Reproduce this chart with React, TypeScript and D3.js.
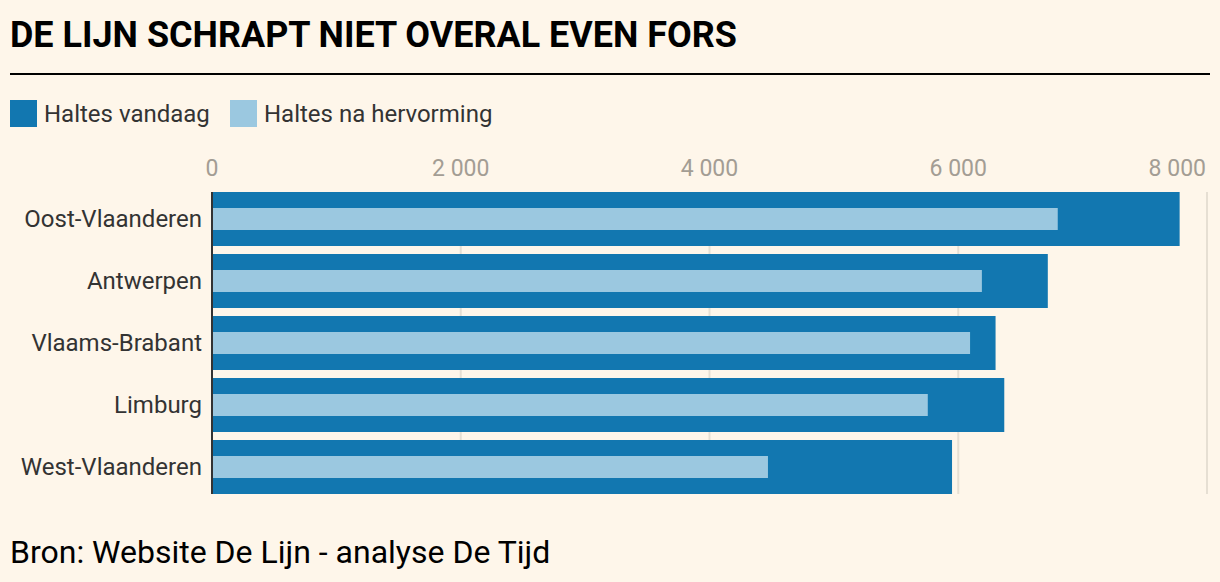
import React from 'react';
import * as d3 from 'd3';

const provinces = ['Oost-Vlaanderen', 'Antwerpen', 'Vlaams-Brabant', 'Limburg', 'West-Vlaanderen'];
const haltesVandaag = [7780, 6720, 6300, 6370, 5950];
const haltesNaHervorming = [6800, 6190, 6095, 5755, 4470];
const xTicks = [0, 2000, 4000, 6000, 8000];

const W = 1220;
const H = 582;
const BG = '#fef6ea';
const DARK = '#1277b0';
const LIGHT = '#9bc8e0';
const FONT = 'Roboto, "Noto Sans", sans-serif';

const fmt = (v: number) => d3.format(',')(v).replace(',', ' ');

const App: React.FC = () => {
  const x = d3.scaleLinear().domain([0, 8000]).range([212, 1207]);
  const y = d3.scaleBand<string>()
    .domain(provinces)
    .range([192, 494])
    .paddingInner(8 / 62)
    .paddingOuter(0)
    .align(0);
  const bh = y.bandwidth();
  const top = 192;
  const bottom = (y(provinces[provinces.length - 1]) ?? 0) + bh;

  return (
    <svg width={W} height={H} style={{ display: 'block', position: 'absolute', left: 0, top: 0, background: BG }}>
      <rect x={0} y={0} width={W} height={H} fill={BG} />
      <text x={10} y={47} fontFamily={FONT} fontWeight={700} fontSize={37} fill="#000"
        textLength={727} lengthAdjust="spacingAndGlyphs">
        DE LIJN SCHRAPT NIET OVERAL EVEN FORS
      </text>
      <line x1={10} x2={1210} y1={74} y2={74} stroke="#000" strokeWidth={2} />

      {/* legende */}
      <rect x={10} y={100} width={27} height={27} fill={DARK} />
      <text x={44} y={122} fontFamily={FONT} fontSize={24} fill="#333">Haltes vandaag</text>
      <rect x={230} y={100} width={27} height={27} fill={LIGHT} />
      <text x={264} y={122} fontFamily={FONT} fontSize={24} fill="#333">Haltes na hervorming</text>

      {/* rasterlijnen + ticks */}
      {xTicks.map((t, i) => (
        <g key={t}>
          {t > 0 && (
            <line x1={x(t)} x2={x(t)} y1={top} y2={bottom} stroke="#e6dfd3" strokeWidth={2} />
          )}
          <text x={i === xTicks.length - 1 ? x(t) - 1 : x(t)} y={176}
            textAnchor={i === xTicks.length - 1 ? 'end' : 'middle'}
            fontFamily={FONT} fontSize={23} fill="#a39d94">{fmt(t)}</text>
        </g>
      ))}

      {provinces.map((p, i) => {
        const y0 = y(p) ?? 0;
        return (
          <g key={p}>
            <rect x={x(0)} y={y0} width={x(haltesVandaag[i]) - x(0)} height={bh} fill={DARK} />
            <rect x={x(0)} y={y0 + 16} width={x(haltesNaHervorming[i]) - x(0)} height={bh - 32} fill={LIGHT} />
            <text x={202} y={y0 + bh / 2} dy="0.35em" textAnchor="end" fontFamily={FONT} fontSize={24} fill="#333">{p}</text>
          </g>
        );
      })}

      <line x1={x(0)} x2={x(0)} y1={top} y2={bottom} stroke="#333" strokeWidth={2} />

      <text x={10} y={563} fontFamily={FONT} fontSize={32} fill="#000">Bron: Website De Lijn - analyse De Tijd</text>
    </svg>
  );
};

export default App;
